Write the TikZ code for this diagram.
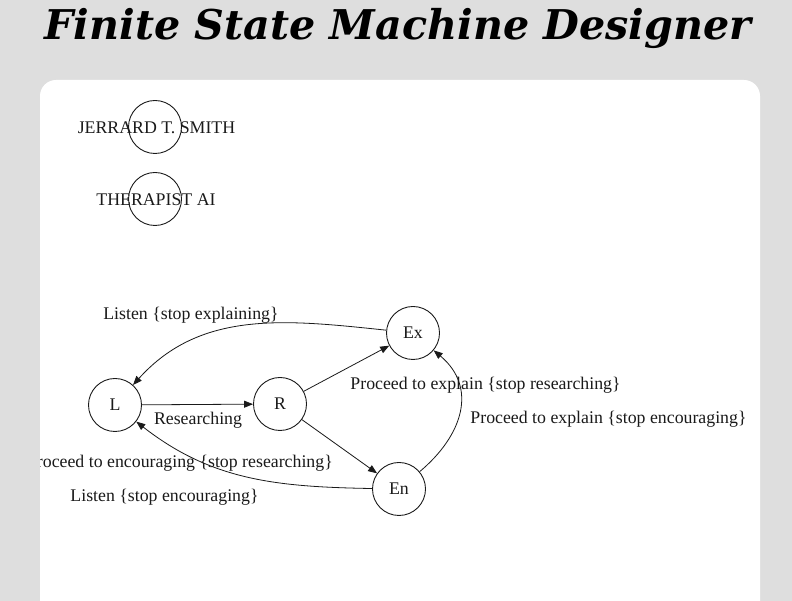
\documentclass[tikz,border=0pt]{standalone}
\usepackage{fontspec}
\setmainfont{Liberation Serif}
\newfontfamily\titlefont{DejaVu Serif}
\usetikzlibrary{arrows.meta}
\definecolor{bggray}{HTML}{DEDEDE}
\definecolor{ink}{HTML}{1A1A1A}
\tikzset{
  statenode/.style={circle, draw=ink, line width=0.9pt, minimum size=53pt, inner sep=0pt},
  lbl/.style={font=\fontsize{17.8}{20}\selectfont, text=ink, inner sep=0pt},
  edge/.style={draw=ink, line width=0.8pt, -{Triangle[length=9pt,width=7pt]}},
}
\begin{document}
\begin{tikzpicture}[x=1pt,y=1pt]
\useasboundingbox (0,0) rectangle (792,601);
\fill[bggray] (0,0) rectangle (792,601);
\fill[white, rounded corners=16pt] (40,-30) rectangle (760,521);
% title
\node[anchor=base, inner sep=0pt] (title) at (398,561) {\resizebox{707pt}{\height}{\titlefont\fontsize{41}{46}\selectfont\bfseries\itshape Finite State Machine Designer}};
% people
\node[statenode] (js) at (155,474) {};
\node[lbl] (jst) at (156.5,473) {JERRARD T. SMITH};
\node[statenode] (ai) at (155,402) {};
\node[lbl] (ait) at (156,401) {THERAPIST AI};
% states
\node[statenode, lbl] (L) at (115,196) {L};
\node[statenode, lbl] (R) at (280,197) {R};
\node[statenode, lbl] (Ex) at (413,268) {Ex};
\node[statenode, lbl] (En) at (399,112) {En};
% edges
\draw[edge] (L) -- (R);
\draw[edge] (R) -- (Ex);
\draw[edge] (R) -- (En);
\draw[edge] (Ex) to[out=174,in=48] (L);
\draw[edge] (En) to[out=179,in=-38] (L);
\draw[edge] (En) to[out=40,in=-40,looseness=1.2] (Ex);
% labels
\node[lbl] (l1) at (191,286) {Listen \{stop explaining\}};
\node[lbl] (l2) at (198,181) {Researching};
\node[lbl] (l3) at (485.5,216) {Proceed to explain \{stop researching\}};
\node[lbl] (l4) at (608.5,182) {Proceed to explain \{stop encouraging\}};
\begin{scope}
\clip (40,0) rectangle (760,521);
\node[lbl, anchor=east] (l5) at (333,138) {Proceed to encouraging \{stop researching\}};
\end{scope}
\node[lbl] (l6) at (164.5,104) {Listen \{stop encouraging\}};
\end{tikzpicture}
\end{document}
